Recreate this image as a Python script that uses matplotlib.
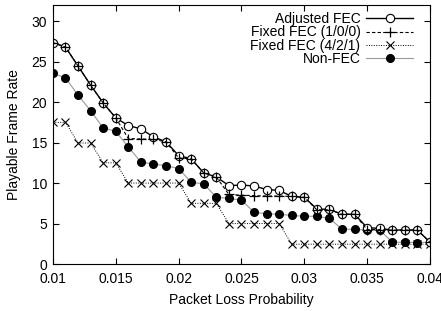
import matplotlib
matplotlib.use('Agg')
import matplotlib.pyplot as plt
import numpy as np

plt.rcParams['font.family'] = ['Liberation Sans', 'DejaVu Sans']

# packet loss probability, one point every 0.001
lossProb = [round(0.010 + 0.001 * i, 3) for i in range(31)]

adjustedFec = [27.35, 26.8, 24.45, 22.1, 19.9, 18.05, 17.1, 16.7, 15.7, 15.1,
               13.4, 13.0, 11.25, 10.75, 9.7, 9.75, 9.65, 9.2, 9.1, 8.35,
               8.25, 6.8, 6.75, 6.15, 6.15, 4.5, 4.4, 4.2, 4.2, 4.2, 2.7]
fixedFec100 = [27.35, 26.8, 24.45, 22.1, 19.9, 18.05, 15.5, 15.45, 15.4, 15.1,
               13.1, 13.0, 11.25, 10.75, 8.6, 8.5, 8.45, 8.4, 8.4, 8.35,
               8.25, 6.7, 6.7, 6.15, 6.15, 4.25, 4.25, 4.2, 4.2, 4.2, 2.7]
fixedFec421 = [17.5, 17.5, 14.95, 14.95, 12.5, 12.5, 10.0, 10.0, 10.0, 10.0,
               10.0, 7.5, 7.5, 7.5, 5.0, 5.0, 5.0, 5.0, 5.0, 2.45,
               2.45, 2.45, 2.45, 2.45, 2.45, 2.45, 2.45, 2.45, 2.45, 2.45, 2.45]
nonFec = [23.55, 23.0, 20.85, 18.95, 16.8, 16.4, 14.45, 12.6, 12.35, 12.15,
          11.8, 10.1, 9.9, 8.25, 8.1, 7.9, 6.4, 6.2, 6.15, 6.0,
          5.9, 5.9, 5.65, 4.3, 4.3, 4.2, 4.2, 2.7, 2.7, 2.65, 2.7]

xTicks = [0.01, 0.015, 0.02, 0.025, 0.03, 0.035, 0.04]
xTickLabels = ['0.01', '0.015', '0.02', '0.025', '0.03', '0.035', '0.04']
yTicks = [0, 5, 10, 15, 20, 25, 30]

fig = plt.figure(figsize=(4.41, 3.11), dpi=100)
ax = fig.add_axes([0.120, 0.151, 0.855, 0.833])

ax.plot(lossProb, adjustedFec, color='black', linestyle='-', linewidth=1.0,
        marker='o', markersize=6, markerfacecolor='white',
        markeredgecolor='black', markeredgewidth=0.8, label='Adjusted FEC', zorder=3)
ax.plot(lossProb, fixedFec100, color='black', linestyle=(0, (3, 2)), linewidth=0.8,
        marker='+', markersize=6.5, markeredgewidth=0.9, label='Fixed FEC (1/0/0)', zorder=4)
ax.plot(lossProb, fixedFec421, color='black', linestyle=(0, (1, 1.5)), linewidth=0.7,
        marker='x', markersize=5.5, markeredgewidth=0.8, label='Fixed FEC (4/2/1)', zorder=2)
ax.plot(lossProb, nonFec, color='#999999', linestyle='-', linewidth=0.8,
        marker='o', markersize=5.5, markerfacecolor='black', markeredgecolor='black',
        label='Non-FEC', zorder=2)

ax.set_xlim(0.01, 0.04)
ax.set_ylim(0, 32)
ax.set_xticks(xTicks)
ax.set_xticklabels(xTickLabels)
ax.set_yticks(yTicks)
ax.tick_params(direction='in', top=True, right=True, labelsize=10, length=4, width=0.8)
ax.tick_params(axis='x', pad=6)
ax.tick_params(axis='y', pad=4)
ax.set_xlabel('Packet Loss Probability', fontsize=10, labelpad=5)
ax.set_ylabel('Playable Frame Rate', fontsize=10, labelpad=8)

leg = ax.legend(loc='upper right', bbox_to_anchor=(0.972, 0.997), frameon=False,
                markerfirst=False, numpoints=1, fontsize=10, handlelength=3.4,
                handletextpad=0.4, labelspacing=-0.04, borderaxespad=0.25, borderpad=0.2)
for txt in leg.get_texts():
    txt.set_ha('right')

fig.savefig('out.png', dpi=100)
